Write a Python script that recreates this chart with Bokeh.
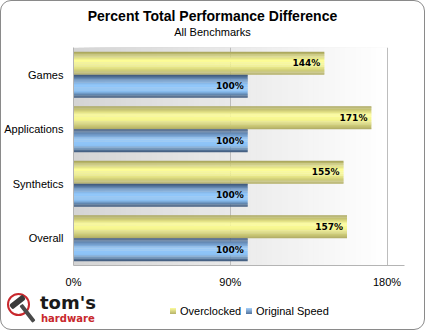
from bokeh.plotting import figure
from bokeh.layouts import column
from bokeh.models import Range1d, FixedTicker, ColumnDataSource, Div
from bokeh.core.properties import value
from bokeh.embed import file_html
from bokeh.resources import INLINE

categories = ["Games", "Applications", "Synthetics", "Overall"]
overclocked = [144, 171, 155, 157]
original = [100, 100, 100, 100]
x_ticks = [0, 90, 180]
x_tick_labels = ["0%", "90%", "180%"]
series_names = ["Overclocked", "Original Speed"]
title_text = "Percent Total Performance Difference"
subtitle_text = "All Benchmarks"
logo_top, logo_bottom = "tom's", "hardware"

IW = 423                 # inner width (page minus 1px border each side)
TOP_H, MAIN_H, BOT_H = 46, 243, 39
FL, FR, FT, FB = 72, 404, 47, 266   # plot frame edges in page pixels


def hex2rgb(h):
    h = h.lstrip("#")
    return tuple(int(h[i:i + 2], 16) for i in (0, 2, 4))


def interp(stops, t):
    for (t0, c0), (t1, c1) in zip(stops, stops[1:]):
        if t0 <= t <= t1:
            f = (t - t0) / (t1 - t0) if t1 > t0 else 0
            a, b = hex2rgb(c0), hex2rgb(c1)
            return "#%02x%02x%02x" % tuple(int(round(a[i] + (b[i] - a[i]) * f)) for i in range(3))
    return stops[-1][1]


def ab(left, top, style="", content=""):
    return ('<div style="position:absolute;left:%spx;top:%spx;white-space:nowrap;%s">%s</div>'
            % (left, top, style, content))


# ---------------- title strip ----------------
top_html = ('<div style="position:relative;width:%dpx;height:%dpx;font-family:\'Liberation Sans\';color:black">' % (IW, TOP_H)
            + ab(0, 6, "width:%dpx;text-align:center;font-size:14px;font-weight:bold;line-height:18px" % IW, title_text)
            + ab(0, 24.5, "width:%dpx;text-align:center;font-size:11px;line-height:13px" % IW, subtitle_text)
            + '</div>')
top = Div(text=top_html, width=IW, height=TOP_H, margin=0)

# ---------------- main chart ----------------
p = figure(width=IW, height=MAIN_H, output_backend="svg", toolbar_location=None,
           x_range=Range1d(0, 190), y_range=Range1d(len(categories) - 0.5, -0.5),
           min_border_left=FL - 1, min_border_right=1 + IW - FR, min_border_top=0,
           min_border_bottom=(FT + MAIN_H) - FB, margin=0)
p.outline_line_color = None
p.background_fill_color = "white"
p.border_fill_color = "white"

# background gradient: overlapping quads (each runs to the last tick) to avoid seams
nb = 60
xmax = x_ticks[-1]
starts = [xmax * i / nb for i in range(nb)]
bg_cols = [interp([(0, "#d4d4d4"), (1, "#ffffff")], (i + 0.5) / nb) for i in range(nb)]
p.quad(left=starts, right=[xmax] * nb, bottom=len(categories) - 0.5, top=-0.5,
       fill_color=bg_cols, line_color=None, level="image")

bar_h = 23 / 55
N = 20
y_stops = [(0, "#a6a35c"), (0.38, "#fdfd98"), (0.6, "#f4f48e"), (1, "#b0ac66")]
b_stops = [(0, "#3a5373"), (0.18, "#6488b4"), (0.45, "#92c8fb"), (0.72, "#8cc2f5"), (1, "#3f5878")]


def strips(vals, top_off, stops):
    xs, ys, cs = [], [], []
    for i, v in enumerate(vals):
        for k in range(N):
            t = (k + 0.5) / N
            xs.append(v)
            ys.append(i + top_off + t * bar_h)
            cs.append(interp(stops, t))
    return ColumnDataSource(dict(x=xs, y=ys, c=cs))


p.hbar(y="y", right="x", left=0, height=bar_h / N * 1.15, fill_color="c",
       line_color=None, source=strips(overclocked, -bar_h, y_stops))
p.hbar(y="y", right="x", left=0, height=bar_h / N * 1.15, fill_color="c",
       line_color=None, source=strips(original, 0, b_stops))

ypos = list(range(len(categories)))
lbl_font = value("DejaVu Sans")
p.text(x=overclocked, y=[y - bar_h / 2 for y in ypos],
       text=["%d%%" % v for v in overclocked], x_offset=-4, text_align="right",
       text_baseline="middle", text_font=lbl_font, text_font_size="9px",
       text_font_style="bold", text_color="black")
p.text(x=original, y=[y + bar_h / 2 for y in ypos],
       text=["%d%%" % v for v in original], x_offset=-4, text_align="right",
       text_baseline="middle", text_font=lbl_font, text_font_size="9px",
       text_font_style="bold", text_color="black")

p.xaxis.ticker = FixedTicker(ticks=x_ticks)
p.xaxis.major_label_overrides = dict(zip(x_ticks, x_tick_labels))
p.yaxis.ticker = FixedTicker(ticks=ypos)
p.yaxis.major_label_overrides = dict(zip(ypos, categories))
for ax in (p.xaxis[0], p.yaxis[0]):
    ax.axis_line_color = "#b4b4b4"
    ax.major_tick_line_color = None
    ax.minor_tick_line_color = None
    ax.major_label_text_font = "Liberation Sans"
    ax.major_label_text_font_size = "11px"
    ax.major_label_text_color = "black"
p.xaxis.major_label_standoff = 4
p.yaxis.major_label_standoff = 4
p.xgrid.ticker = FixedTicker(ticks=x_ticks[1:])
p.xgrid.grid_line_color = "#bdbdbd"
p.ygrid.grid_line_color = None

# ---------------- bottom strip: logo + legend ----------------
leg_grad = ["linear-gradient(#fbfb9c,#b6b26a)", "linear-gradient(#a9d2fb,#52729c)"]
leg_x = [169, 245]
bot_parts = [
    ab(6, 3, "width:23px;height:23px;box-sizing:border-box;border:2px solid #c8282d;border-radius:50%"),
    ab(18, 15, "width:4px;height:21px;background:#4a4a4a;border-radius:1px;transform-origin:50% 0;transform:rotate(-38deg)"),
    ab(8, 9, "width:17px;height:6px;background:#3a3a3a;border-radius:2px;transform:rotate(-38deg)"),
    ab(39, 4, "font-family:'DejaVu Sans';font-weight:bold;font-size:18px;line-height:18px;color:#1a1a1a", logo_top),
    ab(40, 24, "font-family:'DejaVu Sans';font-weight:bold;font-size:10px;line-height:10px;color:#c8282d", logo_bottom),
]
for name, lx, g in zip(series_names, leg_x, leg_grad):
    bot_parts.append(ab(lx, 18, "width:6px;height:6px;background:%s" % g))
    bot_parts.append(ab(lx + 10, 14.5, "font-family:'Liberation Sans';font-size:11px;line-height:13px;color:black", name))
bot_html = ('<div style="position:relative;width:%dpx;height:%dpx">' % (IW, BOT_H)
            + "".join(bot_parts) + "</div>")
bot = Div(text=bot_html, width=IW, height=BOT_H, margin=0)

layout = column(top, p, bot, spacing=0)
layout.styles = {"border": "1px solid #8a8a8a", "border-radius": "11px",
                 "overflow": "hidden", "background": "white"}

open("out.html", "w").write(file_html(layout, INLINE))
